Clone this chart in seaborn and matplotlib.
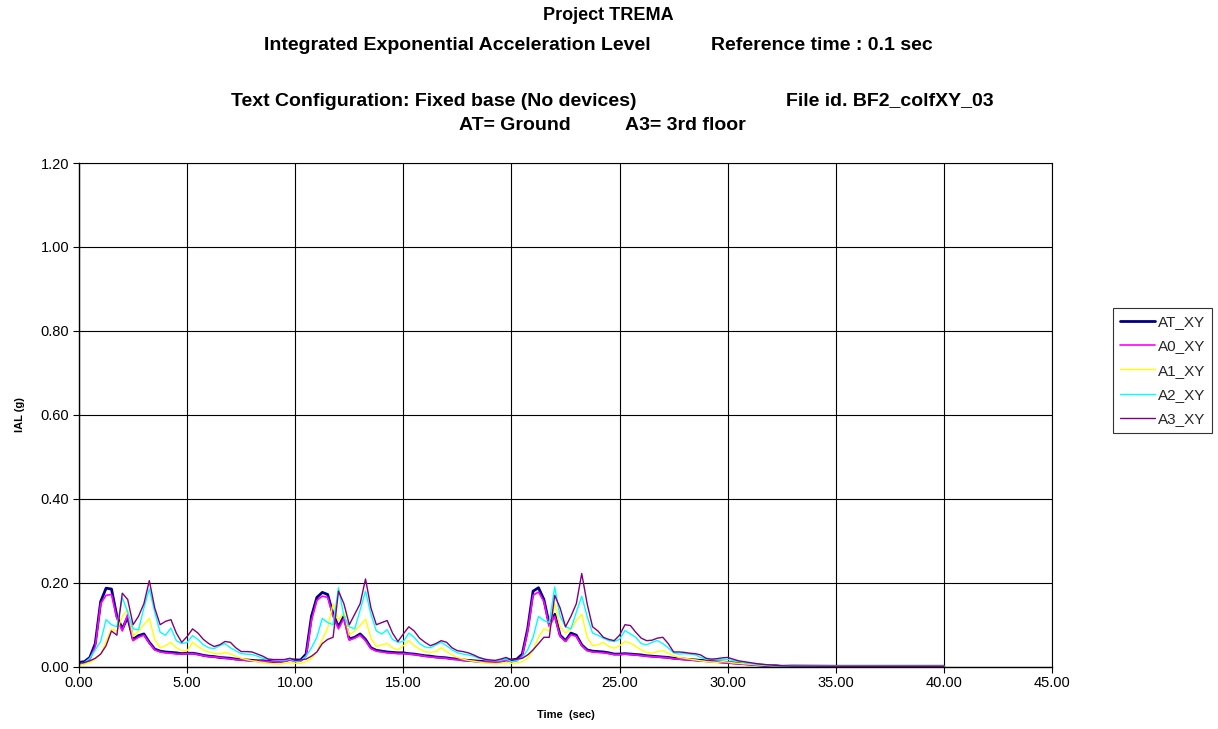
import numpy as np
import pandas as pd
import matplotlib
matplotlib.use("Agg")
import matplotlib.pyplot as plt
import seaborn as sns

# Sample grid: 0.25 s steps over the three shaking bursts, then a sparse quiet tail
STEP = 0.25
TAIL_TIME = [33.0, 34.0, 35.0, 36.0, 37.0, 38.0, 39.0, 40.0]
TAIL_LEVEL = [0.0015, 0.0012, 0.0010, 0.0010, 0.0010, 0.0010, 0.0010, 0.0010]

# IAL (g) per channel, burst 1 (0-9.75 s), burst 2 (10-19.75 s), burst 3 + decay (20-32.5 s)
AT_XY = (
    [0.010, 0.012, 0.022, 0.055, 0.155, 0.187, 0.185, 0.120, 0.090, 0.118,
     0.065, 0.074, 0.078, 0.058, 0.042, 0.037, 0.035, 0.034, 0.033, 0.031,
     0.032, 0.032, 0.030, 0.027, 0.025, 0.024, 0.022, 0.021, 0.020, 0.018,
     0.017, 0.016, 0.015, 0.014, 0.014, 0.013, 0.012, 0.012, 0.014, 0.017]
    + [0.016, 0.016, 0.030, 0.120, 0.165, 0.177, 0.172, 0.125, 0.095, 0.120,
       0.066, 0.070, 0.078, 0.065, 0.045, 0.039, 0.037, 0.035, 0.034, 0.033,
       0.033, 0.031, 0.030, 0.028, 0.026, 0.025, 0.023, 0.022, 0.021, 0.019,
       0.018, 0.016, 0.015, 0.014, 0.013, 0.012, 0.012, 0.012, 0.013, 0.016]
    + [0.016, 0.018, 0.030, 0.090, 0.180, 0.188, 0.160, 0.100, 0.125, 0.075,
       0.062, 0.080, 0.075, 0.052, 0.040, 0.037, 0.036, 0.035, 0.033, 0.030,
       0.030, 0.031, 0.030, 0.029, 0.028, 0.026, 0.025, 0.024, 0.023, 0.022,
       0.020, 0.019, 0.018, 0.017, 0.016, 0.015, 0.014, 0.013, 0.012, 0.011,
       0.010, 0.009, 0.008, 0.007, 0.006, 0.005, 0.004, 0.003, 0.002, 0.002,
       0.001]
)

A0_XY = (
    [0.006, 0.009, 0.018, 0.048, 0.150, 0.170, 0.172, 0.115, 0.085, 0.125,
     0.062, 0.070, 0.075, 0.056, 0.040, 0.035, 0.033, 0.032, 0.030, 0.030,
     0.031, 0.031, 0.029, 0.026, 0.024, 0.023, 0.022, 0.020, 0.019, 0.017,
     0.016, 0.015, 0.014, 0.013, 0.013, 0.012, 0.012, 0.011, 0.013, 0.016]
    + [0.012, 0.013, 0.025, 0.110, 0.158, 0.168, 0.165, 0.120, 0.090, 0.115,
       0.063, 0.068, 0.075, 0.062, 0.043, 0.037, 0.035, 0.033, 0.032, 0.031,
       0.031, 0.030, 0.029, 0.027, 0.025, 0.023, 0.022, 0.021, 0.020, 0.018,
       0.017, 0.015, 0.014, 0.013, 0.012, 0.011, 0.011, 0.011, 0.012, 0.015]
    + [0.012, 0.014, 0.026, 0.085, 0.170, 0.178, 0.155, 0.095, 0.120, 0.072,
       0.060, 0.076, 0.072, 0.050, 0.038, 0.035, 0.034, 0.033, 0.031, 0.029,
       0.029, 0.030, 0.029, 0.028, 0.026, 0.025, 0.024, 0.023, 0.022, 0.021,
       0.019, 0.018, 0.017, 0.016, 0.015, 0.014, 0.013, 0.012, 0.011, 0.010,
       0.009, 0.008, 0.007, 0.006, 0.005, 0.004, 0.003, 0.003, 0.002, 0.002,
       0.001]
)

A1_XY = (
    [0.004, 0.006, 0.010, 0.018, 0.030, 0.060, 0.090, 0.085, 0.120, 0.135,
     0.072, 0.085, 0.100, 0.115, 0.065, 0.045, 0.050, 0.058, 0.045, 0.038,
     0.038, 0.058, 0.048, 0.040, 0.035, 0.032, 0.030, 0.034, 0.030, 0.025,
     0.020, 0.017, 0.014, 0.012, 0.010, 0.008, 0.007, 0.006, 0.008, 0.010]
    + [0.008, 0.008, 0.012, 0.020, 0.035, 0.065, 0.092, 0.150, 0.110, 0.130,
       0.075, 0.085, 0.098, 0.113, 0.068, 0.048, 0.052, 0.055, 0.045, 0.040,
       0.050, 0.062, 0.050, 0.042, 0.036, 0.034, 0.036, 0.045, 0.036, 0.028,
       0.022, 0.018, 0.015, 0.013, 0.011, 0.009, 0.008, 0.007, 0.008, 0.010]
    + [0.008, 0.009, 0.012, 0.020, 0.040, 0.070, 0.090, 0.085, 0.150, 0.095,
       0.080, 0.090, 0.110, 0.125, 0.070, 0.050, 0.052, 0.058, 0.048, 0.044,
       0.050, 0.060, 0.056, 0.048, 0.040, 0.034, 0.032, 0.036, 0.038, 0.032,
       0.026, 0.022, 0.020, 0.018, 0.016, 0.014, 0.012, 0.011, 0.010, 0.012,
       0.011, 0.009, 0.008, 0.007, 0.006, 0.005, 0.004, 0.003, 0.002, 0.002,
       0.001]
)

A2_XY = (
    [0.006, 0.010, 0.020, 0.040, 0.060, 0.112, 0.100, 0.095, 0.165, 0.130,
     0.090, 0.088, 0.140, 0.185, 0.130, 0.082, 0.075, 0.092, 0.062, 0.055,
     0.058, 0.074, 0.065, 0.052, 0.045, 0.043, 0.050, 0.055, 0.045, 0.038,
     0.031, 0.030, 0.029, 0.025, 0.020, 0.018, 0.016, 0.015, 0.015, 0.018]
    + [0.013, 0.014, 0.025, 0.045, 0.070, 0.115, 0.105, 0.100, 0.188, 0.120,
       0.095, 0.090, 0.135, 0.180, 0.125, 0.085, 0.078, 0.088, 0.065, 0.058,
       0.060, 0.080, 0.070, 0.055, 0.047, 0.045, 0.052, 0.058, 0.050, 0.040,
       0.033, 0.030, 0.028, 0.025, 0.020, 0.017, 0.015, 0.014, 0.015, 0.018]
    + [0.012, 0.014, 0.022, 0.040, 0.070, 0.120, 0.110, 0.105, 0.190, 0.120,
       0.095, 0.090, 0.130, 0.168, 0.120, 0.080, 0.075, 0.068, 0.062, 0.060,
       0.065, 0.086, 0.078, 0.070, 0.055, 0.052, 0.058, 0.062, 0.055, 0.045,
       0.033, 0.030, 0.031, 0.030, 0.028, 0.022, 0.018, 0.017, 0.016, 0.017,
       0.017, 0.015, 0.012, 0.010, 0.008, 0.006, 0.005, 0.004, 0.003, 0.002,
       0.001]
)

A3_XY = (
    [0.008, 0.010, 0.014, 0.020, 0.030, 0.050, 0.085, 0.075, 0.175, 0.160,
     0.100, 0.120, 0.150, 0.205, 0.140, 0.100, 0.108, 0.112, 0.080, 0.058,
     0.072, 0.090, 0.080, 0.065, 0.055, 0.048, 0.052, 0.060, 0.058, 0.045,
     0.036, 0.036, 0.035, 0.030, 0.025, 0.018, 0.017, 0.017, 0.017, 0.020]
    + [0.015, 0.016, 0.018, 0.025, 0.035, 0.055, 0.065, 0.070, 0.180, 0.150,
       0.100, 0.125, 0.150, 0.209, 0.140, 0.100, 0.105, 0.110, 0.080, 0.060,
       0.078, 0.095, 0.085, 0.068, 0.058, 0.050, 0.055, 0.062, 0.058, 0.045,
       0.038, 0.036, 0.033, 0.028, 0.022, 0.018, 0.016, 0.015, 0.018, 0.022]
    + [0.016, 0.018, 0.020, 0.028, 0.040, 0.055, 0.070, 0.070, 0.170, 0.140,
       0.095, 0.120, 0.150, 0.222, 0.150, 0.095, 0.085, 0.070, 0.065, 0.062,
       0.075, 0.100, 0.098, 0.082, 0.068, 0.062, 0.063, 0.068, 0.070, 0.055,
       0.035, 0.035, 0.034, 0.032, 0.031, 0.028, 0.020, 0.018, 0.019, 0.021,
       0.022, 0.018, 0.014, 0.012, 0.010, 0.008, 0.006, 0.005, 0.004, 0.003,
       0.002]
)

SERIES = ["AT_XY", "A0_XY", "A1_XY", "A2_XY", "A3_XY"]
VALUES = [AT_XY, A0_XY, A1_XY, A2_XY, A3_XY]
COLORS = ["#000080", "#FF00FF", "#FFFF00", "#00FFFF", "#800080"]
WIDTHS = [2.0, 1.2, 1.0, 1.0, 1.0]

X_TICKS = [0, 5, 10, 15, 20, 25, 30, 35, 40, 45]
Y_TICKS = [0.0, 0.2, 0.4, 0.6, 0.8, 1.0, 1.2]

n_main = len(AT_XY)
main_time = list(np.round(np.arange(n_main) * STEP, 2))
time = main_time + TAIL_TIME

frames = []
for name, vals in zip(SERIES, VALUES):
    assert len(vals) == n_main
    frames.append(pd.DataFrame({"time": time, "ial": list(vals) + TAIL_LEVEL, "series": name}))
df = pd.concat(frames, ignore_index=True)

sns.set_theme(style="white")
plt.rcParams["font.family"] = ["Liberation Sans", "DejaVu Sans"]

fig = plt.figure(figsize=(12.18, 7.29), dpi=100)
fig.patch.set_facecolor("white")
ax = fig.add_axes([0.0649, 0.0855, 0.7988, 0.6909])

for name, color, lw in zip(SERIES, COLORS, WIDTHS):
    sns.lineplot(data=df[df["series"] == name], x="time", y="ial", ax=ax,
                 color=color, linewidth=lw, label=name, estimator=None)

ax.set_xlim(0, 45)
ax.set_ylim(0, 1.2)
ax.set_xticks(X_TICKS)
ax.set_xticklabels([f"{v:.2f}" for v in X_TICKS])
ax.set_yticks(Y_TICKS)
ax.set_yticklabels([f"{v:.2f}" for v in Y_TICKS])
ax.grid(True, color="black", linewidth=0.8)
ax.set_axisbelow(True)
for side in ["left", "bottom", "top", "right"]:
    ax.spines[side].set_visible(True)
    ax.spines[side].set_color("black")
    ax.spines[side].set_linewidth(0.8)
ax.spines["left"].set_linewidth(1.0)
ax.spines["bottom"].set_linewidth(1.0)
ax.tick_params(axis="both", which="both", direction="out", length=4, width=0.8,
               color="black", labelsize=10.5, labelcolor="black",
               left=True, bottom=True, pad=3)

ax.set_xlabel("Time  (sec)", fontsize=8, fontweight="bold", color="black")
ax.set_ylabel("IAL (g)", fontsize=8, fontweight="bold", color="black")
ax.xaxis.set_label_coords(0.5, -0.087)
ax.yaxis.set_label_coords(-0.056, 0.5)

leg = ax.legend(loc="upper left", bbox_to_anchor=(0.9138, 0.5775),
                bbox_transform=fig.transFigure, frameon=True, fancybox=False,
                edgecolor="black", fontsize=11, handlelength=2.3,
                handletextpad=0.2, labelspacing=0.68, borderpad=0.45,
                borderaxespad=0)
leg.get_frame().set_linewidth(0.8)

def title_piece(xpx, ypx, text, size=14):
    fig.text(xpx / 1218, 1 - ypx / 729, text, ha="center", va="center",
             fontsize=size, fontweight="bold", color="black")

title_piece(608, 16, "Project TREMA", size=13)
title_piece(457, 45, "Integrated Exponential Acceleration Level")
title_piece(822, 45, "Reference time : 0.1 sec")
title_piece(434, 101, "Text Configuration: Fixed base (No devices)")
title_piece(890, 101, "File id. BF2_colfXY_03")
title_piece(515, 125, "AT= Ground")
title_piece(685, 125, "A3= 3rd floor")

fig.savefig("out.png", dpi=100, facecolor="white")
